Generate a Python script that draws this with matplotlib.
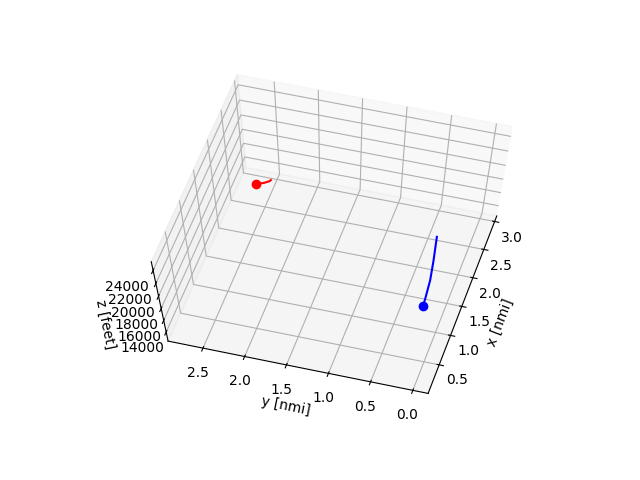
import matplotlib
matplotlib.use('Agg')
import matplotlib.pyplot as plt
import numpy as np

# blue track
x_blue = [1.137, 1.249, 1.568, 1.881, 2.285]
y_blue = [0.205, 0.212, 0.239, 0.286, 0.355]
z_blue = [15000, 15000, 15000, 15000, 15000]

# red track
x_red = [2.573, 2.622, 2.665, 2.688]
y_red = [2.615, 2.53, 2.48, 2.47]
z_red = [15000, 15000, 15000, 15000]

fig = plt.figure()
ax = fig.add_subplot(projection='3d')
# reference has the old stretched cube that fills the whole subplot
ax.apply_aspect = lambda position=None: None
ax.set_box_aspect((1, 1, 1), zoom=1 / 1.06)
ax.plot(x_blue, y_blue, z_blue, color='b')
ax.plot(x_red, y_red, z_red, color='r')
ax.scatter(x_blue[0], y_blue[0], z_blue[0], color='b', s=36, depthshade=False)
ax.scatter(x_red[0], y_red[0], z_red[0], color='r', s=36, depthshade=False)
ax.set_xlim(0.02, 3.1)
ax.set_ylim(-0.18, 2.92)
ax.set_zlim(12400, 25300)
ax.set_xlabel('x [nmi]')
ax.set_ylabel('y [nmi]')
ax.set_zlabel('z [feet]')
ax.view_init(elev=66, azim=196)
fig.savefig('out.png', dpi=100)
